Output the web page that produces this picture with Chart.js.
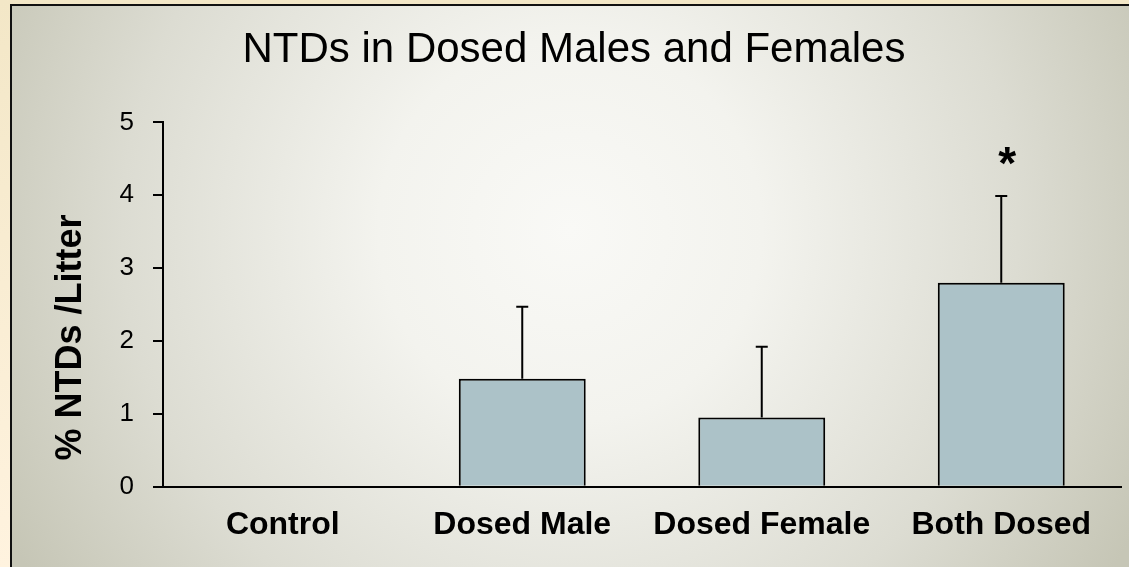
<!DOCTYPE html>
<html>
<head>
<meta charset="utf-8">
<title>NTDs in Dosed Males and Females</title>
<script src="https://cdn.jsdelivr.net/npm/chart.js@4.4.1/dist/chart.umd.min.js"></script>
<style>
  html, body { margin: 0; padding: 0; background: #f8ecd2; }
  canvas { display: block; }
</style>
</head>
<body>
<canvas id="myChart" width="1129" height="567"></canvas>
<script>
const categories = ["Control", "Dosed Male", "Dosed Female", "Both Dosed"];
const ntdValues = [0, 1.48, 0.95, 2.8];
const ntdErrors = [0, 0.99, 0.97, 1.19];
const sigMarks = ["", "", "", "*"];
const yTicks = [0, 1, 2, 3, 4, 5];
const yTitle = "% NTDs /Litter";

const fontFamily = "Arial, 'Liberation Sans', sans-serif";
Chart.defaults.font.family = fontFamily;
Chart.defaults.color = "#000";

// cream slide + framed panel with the soft white glow
const backgroundPlugin = {
  id: "slideBackground",
  beforeDraw(chart) {
    const ctx = chart.ctx;
    const w = chart.width, h = chart.height;
    ctx.save();
    const cream = ctx.createLinearGradient(0, 0, 0, h);
    cream.addColorStop(0, "#f3e7c7");
    cream.addColorStop(1, "#fff3df");
    ctx.fillStyle = cream;
    ctx.fillRect(0, 0, w, h);

    const glow = ctx.createRadialGradient(570, 230, 0, 570, 230, 640);
    glow.addColorStop(0, "#f9f9f6");
    glow.addColorStop(0.3, "#f3f3ee");
    glow.addColorStop(0.7, "#dcdcd2");
    glow.addColorStop(1, "#c6c6b6");
    ctx.fillStyle = glow;
    ctx.fillRect(11, 5, w, h);

    ctx.strokeStyle = "#111";
    ctx.lineWidth = 2;
    ctx.strokeRect(11, 5, w + 10, h + 10);
    ctx.restore();
  }
};

// upper error bars, the significance star and the y title (sits a bit low in the original)
const errorBarPlugin = {
  id: "errorBars",
  afterDatasetsDraw(chart) {
    const ctx = chart.ctx;
    const yScale = chart.scales.y;
    const meta = chart.getDatasetMeta(0);
    ctx.save();
    ctx.strokeStyle = "#000";
    ctx.lineWidth = 2;
    meta.data.forEach(function (bar, i) {
      const err = ntdErrors[i];
      const top = yScale.getPixelForValue(ntdValues[i] + err);
      if (err > 0) {
        ctx.beginPath();
        ctx.moveTo(bar.x, bar.y);
        ctx.lineTo(bar.x, top);
        ctx.moveTo(bar.x - 6, top);
        ctx.lineTo(bar.x + 6, top);
        ctx.stroke();
      }
      if (sigMarks[i]) {
        ctx.fillStyle = "#000";
        ctx.font = "bold 46px " + fontFamily;
        ctx.textAlign = "center";
        ctx.textBaseline = "alphabetic";
        ctx.fillText(sigMarks[i], bar.x + 6, top - 17);
      }
    });

    const area = chart.chartArea;
    ctx.translate(71, (area.top + area.bottom) / 2 + 33);
    ctx.rotate(-Math.PI / 2);
    ctx.fillStyle = "#000";
    ctx.font = "bold 36px " + fontFamily;
    ctx.textAlign = "center";
    ctx.textBaseline = "middle";
    ctx.fillText(yTitle, 0, 0);
    ctx.restore();
  }
};

new Chart("myChart", {
  type: "bar",
  data: {
    labels: categories,
    datasets: [{
      data: ntdValues,
      backgroundColor: "#acc2c8",
      borderColor: "#000",
      borderWidth: 2,
      categoryPercentage: 1,
      barPercentage: 0.53
    }]
  },
  options: {
    responsive: false,
    animation: false,
    layout: { padding: { left: 27, right: 8, top: 0, bottom: 0 } },
    plugins: {
      legend: { display: false },
      tooltip: { enabled: false },
      title: {
        display: true,
        text: "NTDs in Dosed Males and Females",
        color: "#000",
        font: { size: 42, weight: "normal" },
        padding: { top: 25, bottom: 47 }
      }
    },
    scales: {
      x: {
        grid: { drawOnChartArea: false, drawTicks: false },
        border: { color: "#000", width: 2 },
        ticks: { color: "#000", font: { size: 32, weight: "bold" }, padding: 19 },
        afterFit(scale) { scale.height = 80.3; }
      },
      y: {
        min: 0,
        max: 5,
        afterBuildTicks(scale) {
          scale.ticks = yTicks.map(v => ({ value: v }));
        },
        grid: { drawOnChartArea: false, drawTicks: true, tickLength: 10, color: "#000", lineWidth: 2 },
        border: { color: "#000", width: 2 },
        ticks: { color: "#000", font: { size: 26 }, padding: 19 },
        afterFit(scale) { scale.width = 136; }
      }
    }
  },
  plugins: [backgroundPlugin, errorBarPlugin]
});
</script>
</body>
</html>
